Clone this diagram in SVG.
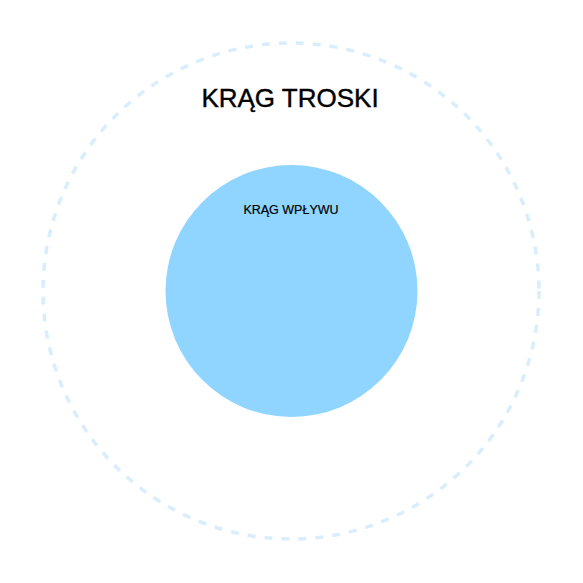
<svg xmlns="http://www.w3.org/2000/svg" width="583" height="583" viewBox="0 0 583 583">
<style>
.t{font-family:"Liberation Sans",Arial,sans-serif;fill:#000000;stroke:#000000;stroke-width:0.4;text-anchor:middle}
</style>
<rect width="583" height="583" fill="#ffffff"/>
<g id="concern">
<circle cx="291" cy="291" r="248" fill="none" stroke="#d8eefd" stroke-width="3.5" stroke-dasharray="8 9"/>
<text class="t" x="290" y="107" font-size="26">KRĄG TROSKI</text>
</g>
<g id="influence">
<circle cx="291.5" cy="291" r="126" fill="#90d5ff"/>
<text class="t" x="291" y="214" font-size="12.5" style="stroke-width:0.2">KRĄG WPŁYWU</text>
</g>
<g id="connectors"></g>
</svg>
